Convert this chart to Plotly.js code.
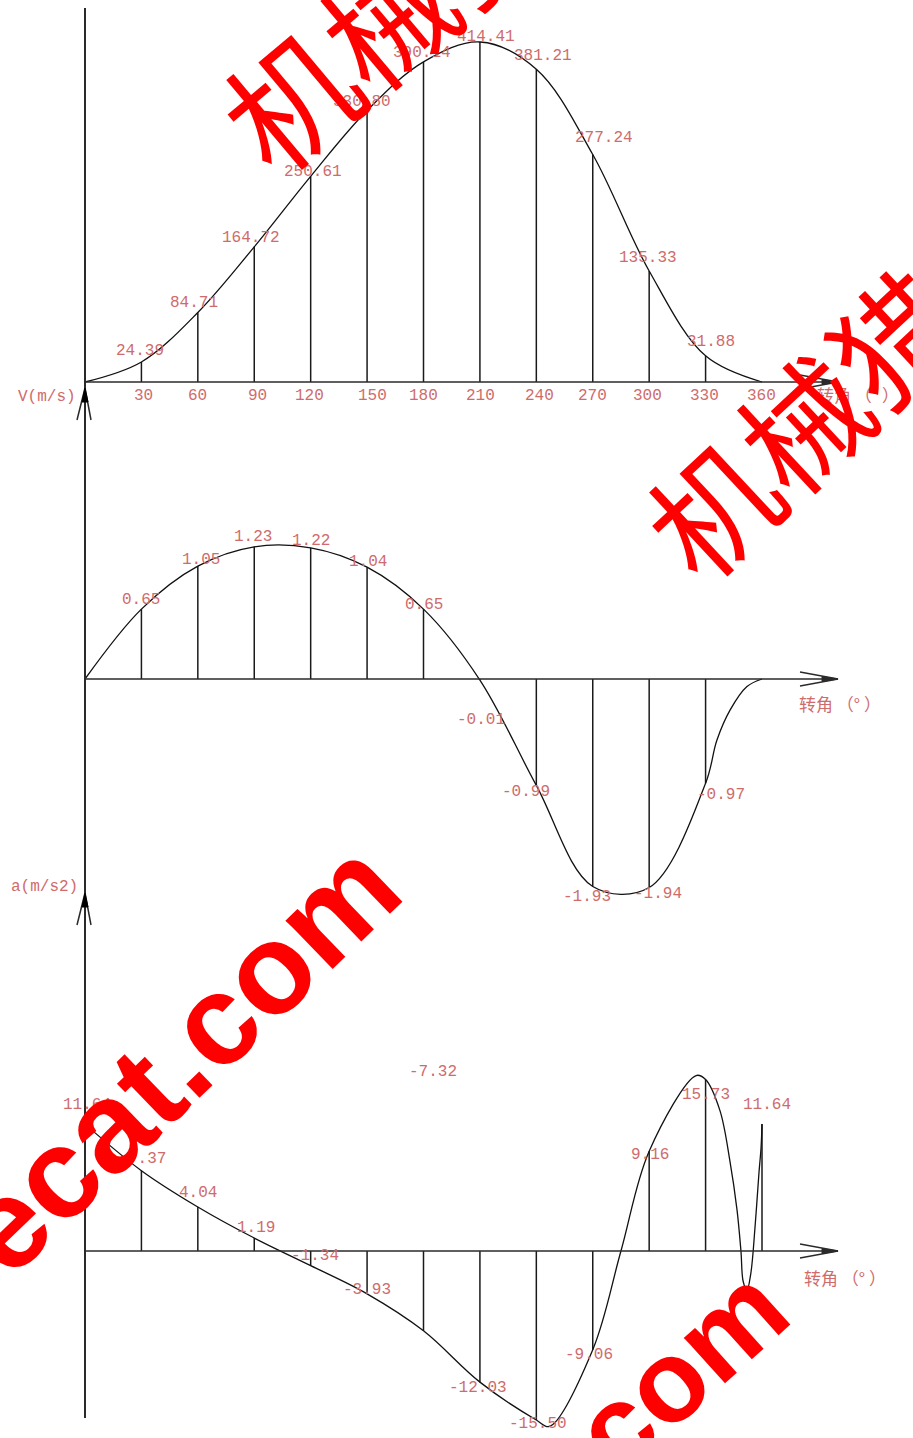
<!DOCTYPE html>
<html><head><meta charset="utf-8">
<script src="https://cdn.plot.ly/plotly-3.0.1.min.js"></script>
<style>html,body{margin:0;padding:0;background:#fff}#chart{width:913px;height:1438px}</style>
</head><body><div id="chart"></div>
<script>
// ---------- data ----------
const angles = [0,30,60,90,120,150,180,210,240,270,300,330,360];
const tickValues = [30,60,90,120,150,180,210,240,270,300,330,360];
const tickLabels = ['30','60','90','120','150','180','210','240','270','300','330','360'];
const displacement = [0,24.39,84.71,164.72,250.61,330.80,390.14,414.41,381.21,277.24,135.33,31.88,0];
const velocity = [0,0.65,1.05,1.23,1.22,1.04,0.65,-0.01,-0.99,-1.93,-1.94,-0.97,0];
const acceleration = [11.64,7.37,4.04,1.19,-1.34,-3.93,-7.32,-12.03,-15.50,-9.06,9.16,15.73,11.64];
// points
const velCurveAngles = [0,30,60,90,120,150,180,210,240,270,300,330,336,343,352,360];
const velCurveValues = [0,0.65,1.05,1.23,1.22,1.04,0.65,-0.01,-0.99,-1.93,-1.94,-0.97,-0.57,-0.29,-0.07,0];
// points (incl. its end wiggle)
const accCurveAngles = [0,30,60,90,120,150,180,210,240,247,270,285,300,325,330,337.6,342.9,346.7,348.8,350,352,354.1,356.3,358.4,359.5,360];
const accCurveValues = [11.64,7.37,4.04,1.19,-1.34,-3.93,-7.32,-12.03,-15.50,-16.1,-9.06,0,9.16,16.1,15.73,12.9,8.3,3.8,0,-2.8,-3.6,-2.0,2.2,7.2,9.5,11.64];

// ---------- label placement (pixel offsets, not data) ----------
const dispOff = [null,[-1,11],[-4,10],[-3,9],[2,4],[-5,9],[-2,9],[6,5],[7,13],[11,17],[-1,13],[5,14],null];
const velOff  = [null,[0,9],[3,6],[-1,10],[0,7],[1,5],[0,4],[1,-40],[-10,-7],[-6,-11],[9,-6],[15,-12],null];
const accOff  = [[2,19],[6,12],[0,14],[2,10],[4,10],[0,4],[9,259],[-2,-6],[2,-4],[-4,-5],[1,-4],[0,-15],[5,19]];
const tickOff = [2,0,3,-1,5,0,1,3,0,-2,-1,-1];

// ---------- geometry ----------
const W = 913, H = 1438;
const pxPerDeg = 677/360;
const xr = [-85/pxPerDeg, (W-85)/pxPerDeg];
function dom(t,b){ return [1-b/H, 1-t/H]; }
function rng(t,b,base,scale){ return [-(b-base)/scale, (base-t)/scale]; }
function degAtPx(px){ return (px-85)/pxPerDeg; }

const labelColor = '#cf6b6b';
const labelFont = {family:'Liberation Mono, DejaVu Sans Mono, monospace', size:16, color:labelColor};
const cjkFont = {family:'Noto Sans CJK SC, sans-serif', size:17, color:labelColor};

function drops(xs, ys, ax){
  const x=[], y=[];
  xs.forEach((d,i)=>{ x.push(d,d,null); y.push(0,ys[i],null); });
  return {x, y, mode:'lines', line:{color:'#1a1a1a', width:1.5}, xaxis:'x', yaxis:ax, hoverinfo:'skip'};
}
function curve(xs, ys, ax){
  return {x:xs, y:ys, mode:'lines', line:{color:'#111', width:1.3, shape:'spline', smoothing:1}, xaxis:'x', yaxis:ax, hoverinfo:'skip'};
}

const traces = [
  drops(angles, displacement, 'y'),
  curve(angles, displacement, 'y'),
  drops(angles, velocity, 'y2'),
  curve(velCurveAngles, velCurveValues, 'y2'),
  drops(angles, acceleration, 'y3'),
  curve(accCurveAngles, accCurveValues, 'y3')
];

const annotations = [];
function addLabels(vals, offs, yref){
  vals.forEach((v,i)=>{
    if(!offs[i]) return;
    annotations.push({x:angles[i], y:v, xref:'x', yref:yref, text:v.toFixed(2), showarrow:false,
      xshift:offs[i][0], yshift:offs[i][1], font:labelFont, xanchor:'center', yanchor:'middle'});
  });
}
addLabels(displacement, dispOff, 'y');
addLabels(velocity, velOff, 'y2');
addLabels(acceleration, accOff, 'y3');
tickValues.forEach((t,i)=>{
  annotations.push({x:t, y:0, xref:'x', yref:'y', text:tickLabels[i], showarrow:false,
    xshift:tickOff[i], yshift:-14, font:labelFont, xanchor:'center', yanchor:'middle'});
});
function paperText(txt, px, py, font){
  annotations.push({x:px/W, y:1-py/H, xref:'paper', yref:'paper', text:txt, showarrow:false, font:font, xanchor:'center', yanchor:'middle'});
}
paperText('V(m/s)', 47, 397, labelFont);
paperText('a(m/s2)', 44, 887, labelFont);
paperText('转角 （° ）', 858, 394, cjkFont);
paperText('转角 （° ）', 840, 703, cjkFont);
paperText('转角 （° ）', 845, 1277, cjkFont);

// watermarks
function mark(txt, px, py, size, angle, family, weight){
  annotations.push({x:px/W, y:1-py/H, xref:'paper', yref:'paper', text:txt, showarrow:false,
    textangle:angle, xanchor:'center', yanchor:'middle',
    font:{family:family, size:size, color:'#ff0000', weight:weight}});
}
mark('机械猎', 385, 14, 128, -40, 'Noto Sans CJK SC', 400);
mark('机械猎', 800, 420, 125, -43, 'Noto Sans CJK SC', 400);
mark('ecat.com', 177, 1057, 128, -44, 'Liberation Sans, Arial, sans-serif', 700);
mark('com', 680, 1370, 116, -42, 'Liberation Sans, Arial, sans-serif', 700);

// ---------- shapes: axes & arrows ----------
const axisColor = '#2a2a2a';
const xEnd = degAtPx(838);
const shapes = [];
shapes.push({type:'line', xref:'x', yref:'paper', x0:0, x1:0, y0:1-1418/H, y1:1-8/H, line:{color:axisColor, width:2}});
['y','y2','y3'].forEach(ax=>{
  shapes.push({type:'line', xref:'x', yref:ax, x0:0, x1:xEnd, y0:0, y1:0, line:{color:axisColor, width:1.6}});
  shapes.push({type:'path', xref:'x', yref:ax, xsizemode:'pixel', ysizemode:'pixel', xanchor:xEnd, yanchor:0,
    path:'M -38,7 L 0,0 L -38,-7', line:{color:axisColor, width:1.3}});
  shapes.push({type:'path', xref:'x', yref:ax, xsizemode:'pixel', ysizemode:'pixel', xanchor:xEnd, yanchor:0,
    path:'M -16,2.5 L 0,0 L -16,-2.5 Z', fillcolor:axisColor, line:{color:axisColor, width:1}});
});
[388, 893].forEach(py=>{
  shapes.push({type:'path', xref:'x', yref:'paper', xsizemode:'pixel', ysizemode:'pixel', xanchor:0, yanchor:1-py/H,
    path:'M -8,-32 L 0,0 L 6,-32', line:{color:axisColor, width:1.5}});
  shapes.push({type:'path', xref:'x', yref:'paper', xsizemode:'pixel', ysizemode:'pixel', xanchor:0, yanchor:1-py/H,
    path:'M -3,-14 L 0,0 L 3,-14 Z', fillcolor:'#000', line:{color:'#000', width:1}});
});

const layout = {
  width:W, height:H, margin:{l:0,r:0,t:0,b:0},
  paper_bgcolor:'#fff', plot_bgcolor:'#fff', showlegend:false, hovermode:false,
  xaxis:{range:xr, visible:false, fixedrange:true},
  yaxis:{domain:dom(0,420), range:rng(0,420,382,0.8205), visible:false, fixedrange:true},
  yaxis2:{domain:dom(430,900), range:rng(430,900,679,107.5), visible:false, fixedrange:true, anchor:'x'},
  yaxis3:{domain:dom(940,1438), range:rng(940,1438,1251,10.9), visible:false, fixedrange:true, anchor:'x'},
  shapes:shapes, annotations:annotations
};
Plotly.newPlot('chart', traces, layout, {displayModeBar:false, staticPlot:true});
</script></body></html>
